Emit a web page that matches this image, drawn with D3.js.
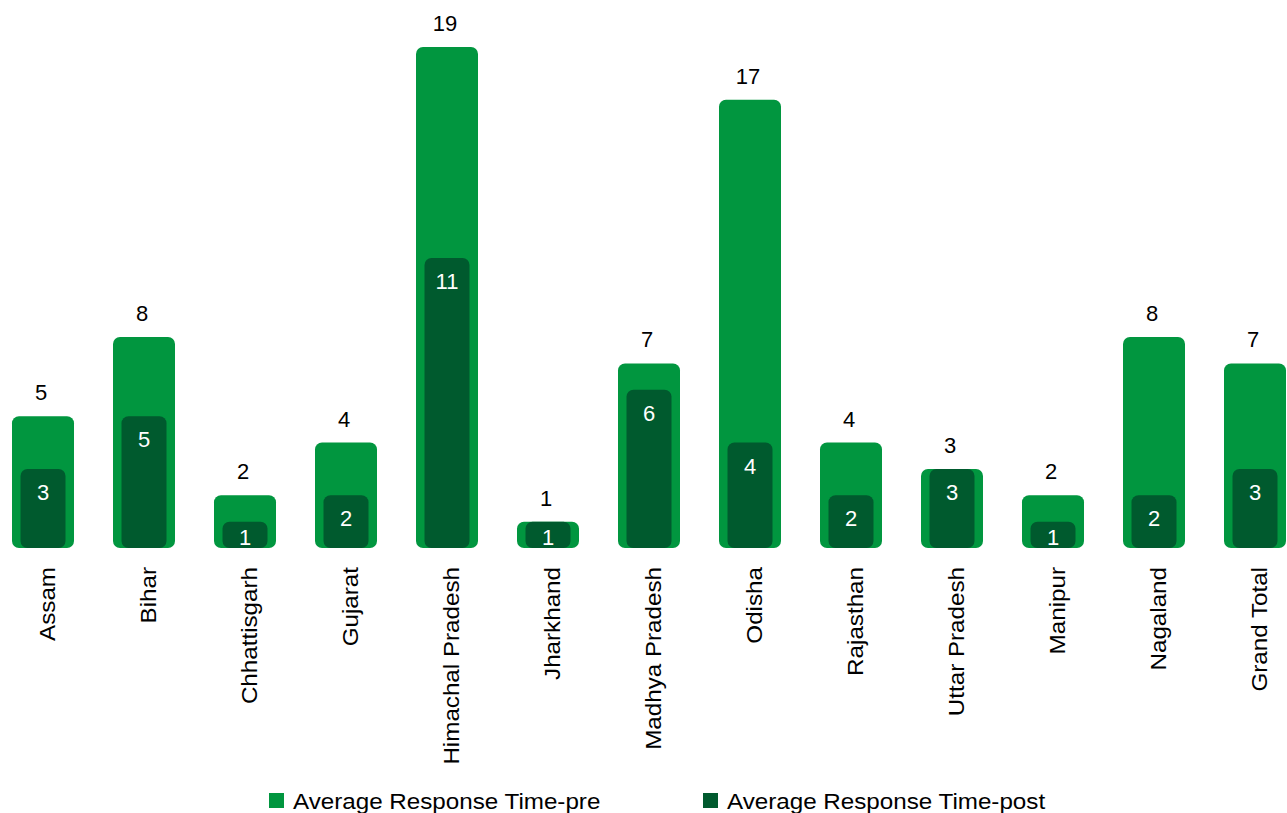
<!DOCTYPE html>
<html>
<head>
<meta charset="utf-8">
<script src="https://cdn.jsdelivr.net/npm/d3@7"></script>
<style>
  html, body { margin: 0; padding: 0; background: #fff; }
  svg { display: block; font-family: "Liberation Sans", Arial, sans-serif; }
</style>
</head>
<body>
<svg id="chart" width="1287" height="813"></svg>
<script>
const categories = ["Assam", "Bihar", "Chhattisgarh", "Gujarat", "Himachal Pradesh", "Jharkhand",
  "Madhya Pradesh", "Odisha", "Rajasthan", "Uttar Pradesh", "Manipur", "Nagaland", "Grand Total"];
const preValues = [5, 8, 2, 4, 19, 1, 7, 17, 4, 3, 2, 8, 7];
const postValues = [3, 5, 1, 2, 11, 1, 6, 4, 2, 3, 1, 2, 3];
const seriesNames = ["Average Response Time-pre", "Average Response Time-post"];

const preColor = "#01963f";
const postColor = "#005a2e";

const svg = d3.select("#chart");
const x = d3.scaleBand().domain(categories).range([-7.5, 1305.5]).padding(0);
const y = d3.scaleLinear().domain([0, 19]).range([548, 47]);

const outerW = 62, innerW = 45, r = 7;
const cx = d => x(d) + x.bandwidth() / 2;

const g = svg.append("g");

// outer (pre) bars
g.selectAll("rect.pre").data(categories).join("rect")
  .attr("class", "pre")
  .attr("x", d => cx(d) - outerW / 2)
  .attr("y", (d, i) => y(preValues[i]))
  .attr("width", outerW)
  .attr("height", (d, i) => y(0) - y(preValues[i]))
  .attr("rx", r).attr("ry", r)
  .attr("fill", preColor);

// inner (post) bars
g.selectAll("rect.post").data(categories).join("rect")
  .attr("class", "post")
  .attr("x", d => cx(d) - innerW / 2)
  .attr("y", (d, i) => y(postValues[i]))
  .attr("width", innerW)
  .attr("height", (d, i) => y(0) - y(postValues[i]))
  .attr("rx", r).attr("ry", r)
  .attr("fill", postColor);

// pre labels above
g.selectAll("text.preLab").data(categories).join("text")
  .attr("class", "preLab")
  .attr("x", d => cx(d) - 2)
  .attr("y", (d, i) => y(preValues[i]) - 16)
  .attr("text-anchor", "middle")
  .attr("font-size", 22)
  .attr("fill", "#000")
  .text((d, i) => preValues[i]);

// post labels inside
g.selectAll("text.postLab").data(categories).join("text")
  .attr("class", "postLab")
  .attr("x", d => cx(d))
  .attr("y", (d, i) => Math.min(y(postValues[i]) + 23, y(0) - 11) + 8)
  .attr("text-anchor", "middle")
  .attr("font-size", 22)
  .attr("fill", "#fff")
  .text((d, i) => postValues[i]);

// category axis labels (rotated)
const xAxis = d3.axisBottom(x).tickSize(0).tickPadding(0);
const axisG = svg.append("g").attr("transform", "translate(0,548)").call(xAxis);
axisG.select(".domain").remove();
axisG.selectAll(".tick text")
  .attr("font-family", "'Liberation Sans', Arial, sans-serif")
  .attr("font-size", 22)
  .attr("fill", "#000")
  .attr("text-anchor", "end")
  .attr("dy", null)
  .attr("y", 0)
  .attr("transform", "translate(11.5,19) rotate(-90) scale(1.1,1)");

// legend
const legend = svg.append("g");
const legendItems = [
  { name: seriesNames[0], color: preColor, x: 269 },
  { name: seriesNames[1], color: postColor, x: 703 }
];
legendItems.forEach(it => {
  legend.append("rect")
    .attr("x", it.x).attr("y", 793)
    .attr("width", 15).attr("height", 15)
    .attr("fill", it.color);
  legend.append("text")
    .attr("transform", `translate(${it.x + 24},809) scale(1.1,1)`)
    .attr("font-size", 22)
    .attr("fill", "#000")
    .text(it.name);
});
</script>
</body>
</html>
